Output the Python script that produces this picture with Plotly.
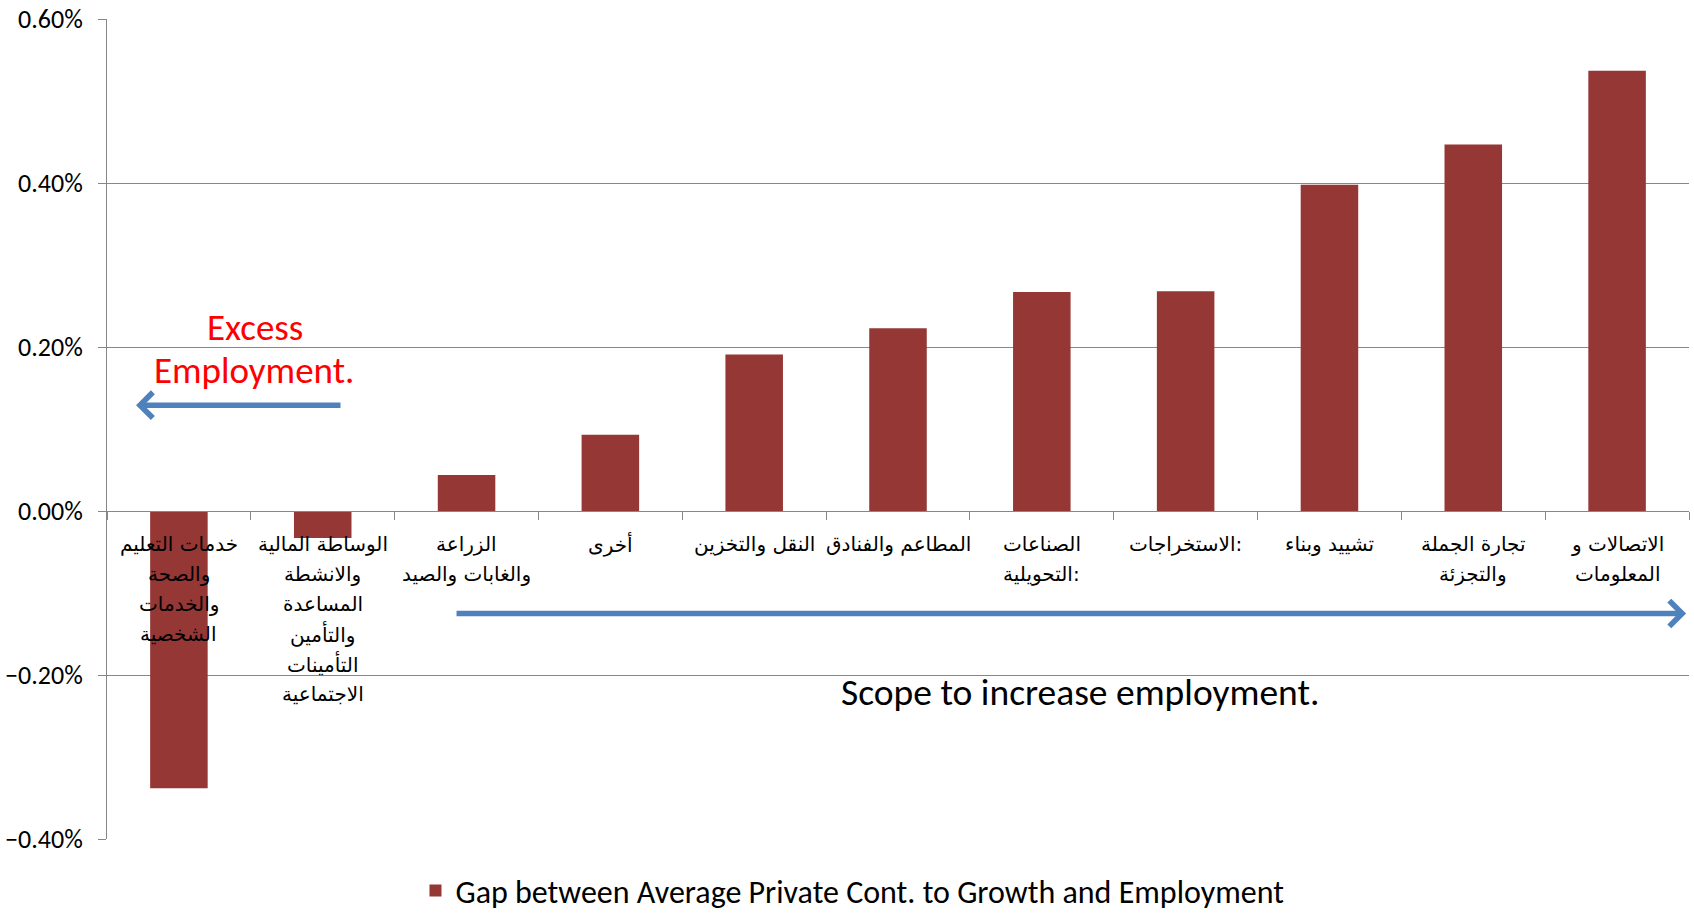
import plotly.graph_objects as go

# Sectors, ordered from the largest surplus of employment to the largest gap
categories = [
    "خدمات التعليم والصحة والخدمات الشخصية",
    "الوساطة المالية والانشطة المساعدة والتأمين التأمينات الاجتماعية",
    "الزراعة والغابات والصيد",
    "أخرى",
    "النقل والتخزين",
    "المطاعم والفنادق",
    "الصناعات التحويلية:",
    "الاستخراجات:",
    "تشييد وبناء",
    "تجارة الجملة والتجزئة",
    "الاتصالات و المعلومات",
]

# Wrapped category labels shown under the zero line
labels = [
    "خدمات التعليم<br>والصحة<br>والخدمات<br>الشخصية",
    "الوساطة المالية<br>والانشطة<br>المساعدة<br>والتأمين<br>التأمينات<br>الاجتماعية",
    "الزراعة<br>والغابات والصيد",
    "أخرى",
    "النقل والتخزين",
    "المطاعم والفنادق",
    "الصناعات<br>التحويلية:",
    "الاستخراجات:",
    "تشييد وبناء",
    "تجارة الجملة<br>والتجزئة",
    "الاتصالات و<br>المعلومات",
]

# Gap between average private contribution to growth and to employment
gap_values = [
    -0.00338, -0.00033, 0.00044, 0.00093, 0.00191, 0.00223,
    0.00267, 0.00268, 0.00398, 0.00447, 0.00537,
]

y_ticks = [-0.004, -0.002, 0.0, 0.002, 0.004, 0.006]
series_name = "Gap between Average Private Cont. to Growth and Employment"

LATIN = "Carlito, Lato, sans-serif"
ARABIC = "DejaVu Sans, sans-serif"
GRID = "#878787"
BAR = "#953735"
ARROW = "#4F81BD"

fig = go.Figure(
    go.Bar(
        x=categories,
        y=gap_values,
        name=series_name,
        marker=dict(color=BAR, line=dict(width=0)),
        width=0.4,
        showlegend=True,
    )
)

fig.update_layout(
    width=1694,
    height=913,
    margin=dict(l=107, r=5, t=19, b=74, autoexpand=False),
    paper_bgcolor="white",
    plot_bgcolor="white",
    font=dict(family=LATIN, color="black"),
    legend=dict(
        orientation="h",
        x=0.195,
        xanchor="left",
        y=-0.0965,
        yanchor="bottom",
        font=dict(family=LATIN, size=32, color="black"),
        bgcolor="rgba(0,0,0,0)",
    ),
    xaxis=dict(
        type="category",
        range=[-0.5, len(categories) - 0.5],
        anchor="free",
        position=0.4,
        showline=True,
        linecolor=GRID,
        linewidth=1,
        showgrid=False,
        ticks="outside",
        tickson="boundaries",
        ticklen=8,
        tickcolor=GRID,
        showticklabels=False,
        automargin=False,
    ),
    yaxis=dict(
        range=[-0.004, 0.006],
        tickvals=y_ticks,
        tickformat=".2%",
        showgrid=True,
        gridcolor=GRID,
        gridwidth=1,
        zeroline=False,
        showline=True,
        linecolor=GRID,
        linewidth=1,
        ticks="outside",
        ticklen=8,
        tickcolor=GRID,
        ticklabelstandoff=10,
        tickfont=dict(family=LATIN, size=26, color="black"),
        automargin=False,
    ),
)

# Category labels under the zero line, one text per wrapped line
LINE_STEP = 30
FIRST_LINE = 33
for i, label in enumerate(labels):
    for j, line in enumerate(label.split("<br>")):
        fig.add_annotation(
            x=i, y=0, xref="x", yref="y",
            text=line, showarrow=False,
            yanchor="middle", xanchor="center",
            yshift=-(FIRST_LINE + LINE_STEP * j),
            font=dict(family=ARABIC, size=20, color="black"),
        )

# Direction arrows and their captions
fig.add_annotation(
    x=-0.298, y=0.00129, ax=1.134, ay=0.00129,
    xref="x", yref="y", axref="x", ayref="y",
    text="", showarrow=True, arrowhead=4, arrowsize=0.9,
    arrowwidth=5.5, arrowcolor=ARROW, standoff=0,
)
fig.add_annotation(
    x=10.48, y=-0.00125, ax=1.92, ay=-0.00125,
    xref="x", yref="y", axref="x", ayref="y",
    text="", showarrow=True, arrowhead=4, arrowsize=0.9,
    arrowwidth=5.5, arrowcolor=ARROW, standoff=0,
)
fig.add_annotation(
    x=0.529, y=0.00224, xref="x", yref="y",
    text="Excess", showarrow=False,
    font=dict(family=LATIN, size=37, color="#FF0000"),
)
fig.add_annotation(
    x=0.522, y=0.00171, xref="x", yref="y",
    text="Employment.", showarrow=False,
    font=dict(family=LATIN, size=37, color="#FF0000"),
)
fig.add_annotation(
    x=6.266, y=-0.00221, xref="x", yref="y",
    text="Scope to increase employment.", showarrow=False,
    font=dict(family=LATIN, size=37.5, color="black"),
)

fig.write_html("out.html")
